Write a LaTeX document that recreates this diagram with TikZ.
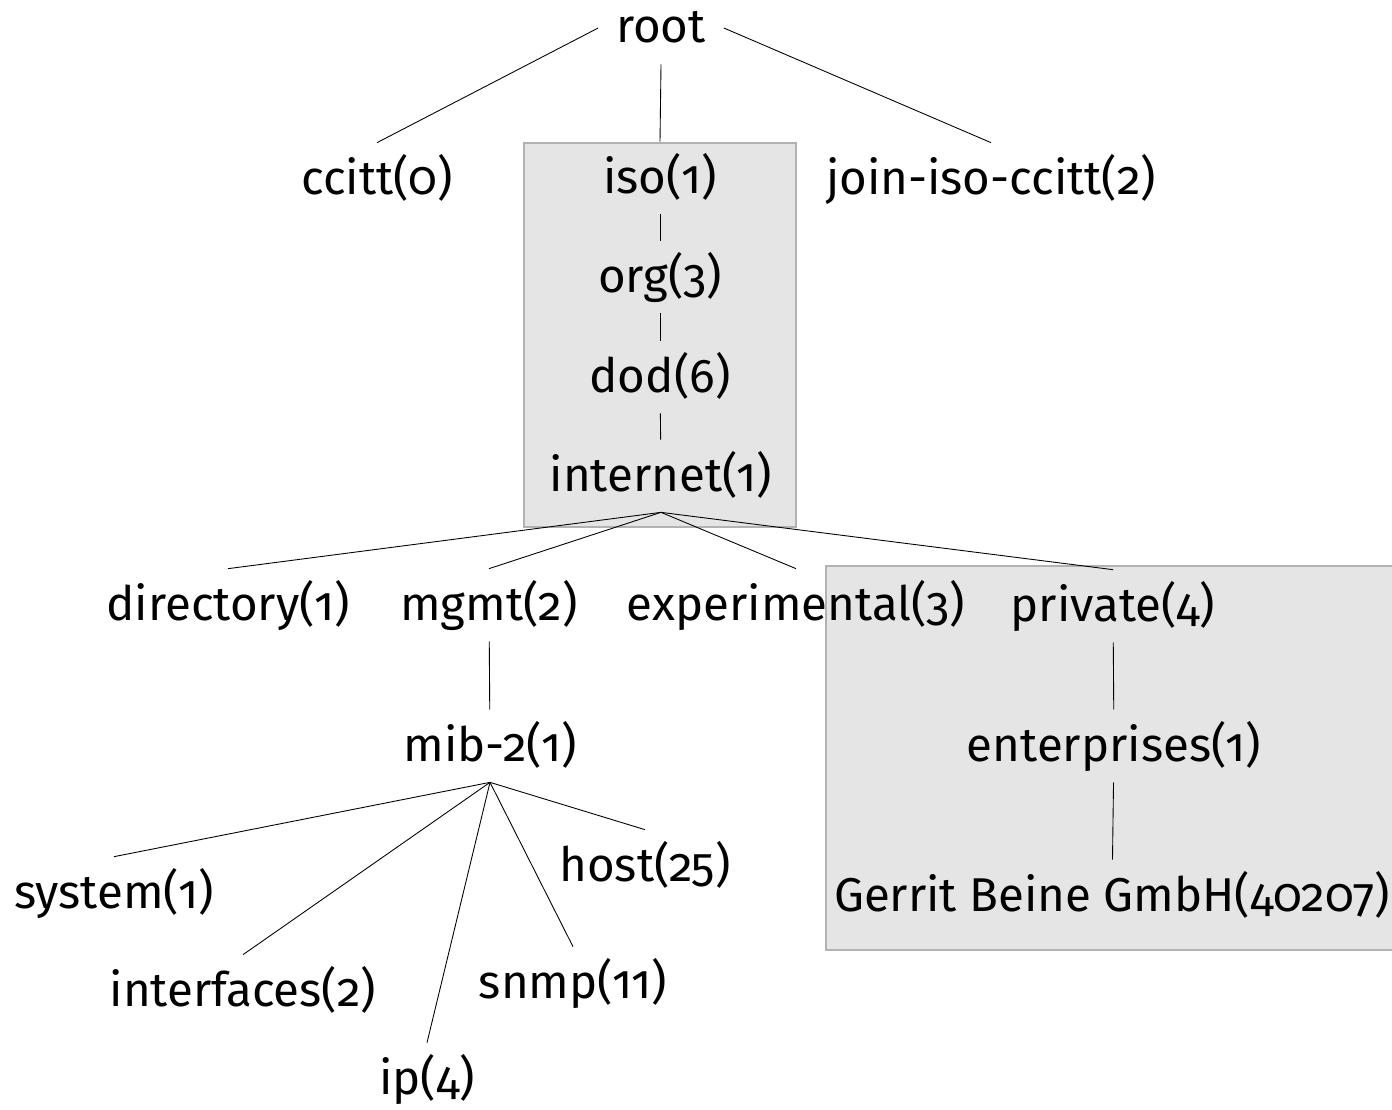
\documentclass[tikz,border=0pt]{standalone}
\usepackage{fontspec}
\setmainfont{Fira Sans}[Numbers=OldStyle]

\begin{document}
\begin{tikzpicture}[
    x=0.02cm, y=-0.02cm,
    oid/.style={inner sep=0pt, minimum height=1.44cm, text height=0.9cm, text depth=0.3cm, font=\fontsize{27}{30}\selectfont},
    grp/.style={fill=black!10, draw=black!30, line width=0.6pt},
    edge/.style={line width=0.5pt, black},
]
\useasboundingbox (0,0) rectangle (1392,1109);

% shaded groups
\draw[grp] (524,143) rectangle (796,527);
\draw[grp] (826,566) rectangle (1400,950);

% top levels
\node[oid, minimum width=2.5cm] (root) at (661,28) {root};
\node[oid] (ccitt) at (377,179) {ccitt(0)};
\node[oid] (iso) at (660,178) {iso(1)};
\node[oid] (join) at (991,179) {join-iso-ccitt(2)};
\node[oid] (org) at (660,277) {org(3)};
\node[oid] (dod) at (660,377) {dod(6)};
\node[oid] (internet) at (661,476) {internet(1)};

% below internet
\node[oid] (dir) at (228,605) {directory(1)};
\node[oid] (mgmt) at (489,605) {mgmt(2)};
\node[oid] (exp) at (796,605) {experimental(3)};
\node[oid] (priv) at (1113,606) {private(4)};
\node[oid] (mib) at (490,746) {mib-2(1)};
\node[oid] (ent) at (1114,746) {enterprises(1)};
\node[oid] (gbg) at (1112,896) {Gerrit Beine GmbH(40207)};

% mib-2 subtree
\node[oid] (sys) at (114,893) {system(1)};
\node[oid] (ifc) at (243,991) {interfaces(2)};
\node[oid] (ip) at (427,1079) {ip(4)};
\node[oid] (snmp) at (573,983) {snmp(11)};
\node[oid] (host) at (645,866) {host(25)};

\draw[edge] (root.west) -- (ccitt.north);
\draw[edge] (root.south) -- (iso.north);
\draw[edge] (root.east) -- (join.north);
\draw[edge] (iso) -- (org);
\draw[edge] (org) -- (dod);
\draw[edge] (dod) -- (internet);
\foreach \c in {dir,mgmt,exp,priv}
    \draw[edge] (internet.south) -- (\c.north);
\draw[edge] (mgmt) -- (mib);
\draw[edge] (priv) -- (ent);
\draw[edge] (ent) -- (gbg);
\foreach \c in {sys,ifc,ip,snmp,host}
    \draw[edge] (mib.south) -- (\c.north);
\end{tikzpicture}
\end{document}
